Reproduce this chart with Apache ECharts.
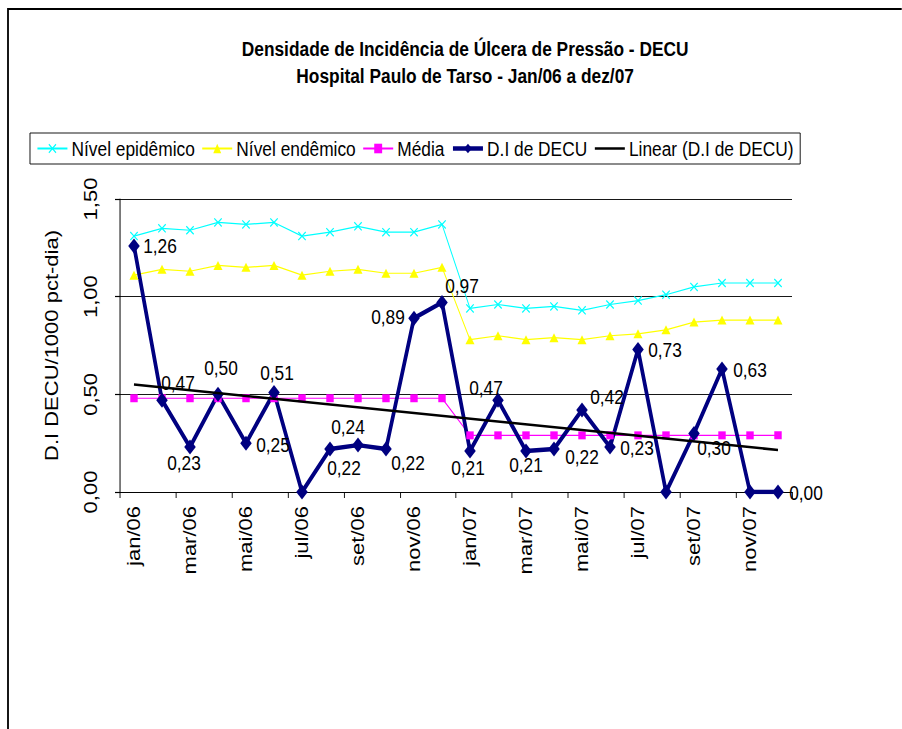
<!DOCTYPE html>
<html>
<head>
<meta charset="utf-8">
<script src="https://cdn.jsdelivr.net/npm/echarts@6/dist/echarts.min.js"></script>
<style>
  html, body { margin: 0; padding: 0; background: #fff; overflow: hidden; }
  #wrap { width: 902px; height: 729px; overflow: hidden; }
  /* the drawing is laid out wider and squeezed horizontally */
  #chart { height: 729px; transform-origin: 0 0; }
</style>
</head>
<body>
<div id="wrap"><div id="chart"></div></div>
<script>
// Monthly categories, Jan/2006 – Dec/2007
const months = ['jan/06','fev/06','mar/06','abr/06','mai/06','jun/06','jul/06','ago/06','set/06','out/06','nov/06','dez/06',
                'jan/07','fev/07','mar/07','abr/07','mai/07','jun/07','jul/07','ago/07','set/07','out/07','nov/07','dez/07'];

// Incidence density of pressure ulcers (per 1000 patient-days)
const diDecu = [1.26, 0.47, 0.23, 0.50, 0.25, 0.51, 0.00, 0.22, 0.24, 0.22, 0.89, 0.97,
                0.21, 0.47, 0.21, 0.22, 0.42, 0.23, 0.73, 0.00, 0.30, 0.63, 0.00, 0.00];

// Epidemic level
const nivelEpidemico = [1.31, 1.35, 1.34, 1.38, 1.37, 1.38, 1.31, 1.33, 1.36, 1.33, 1.33, 1.37,
                        0.94, 0.96, 0.94, 0.95, 0.93, 0.96, 0.98, 1.01, 1.05, 1.07, 1.07, 1.07];

// Endemic level
const nivelEndemico = [1.11, 1.14, 1.13, 1.16, 1.15, 1.16, 1.11, 1.13, 1.14, 1.12, 1.12, 1.15,
                       0.78, 0.80, 0.78, 0.79, 0.78, 0.80, 0.81, 0.83, 0.87, 0.88, 0.88, 0.88];

// Yearly mean
const media = [0.48, 0.48, 0.48, 0.48, 0.48, 0.48, 0.48, 0.48, 0.48, 0.48, 0.48, 0.48,
               0.29, 0.29, 0.29, 0.29, 0.29, 0.29, 0.29, 0.29, 0.29, 0.29, 0.29, 0.29];

// Linear trend of D.I de DECU: value at first and last month
const trendEnds = [0.55, 0.215];

// Y axis ticks
const yTicks = [0, 0.5, 1.0, 1.5];

// Data label placement (label centre relative to the marker, on screen), null = no label
const labelOffsets = [[26,0],[16,-17],[-6,16],[3,-26],[27,2],[3,-19],null,[14,19],[-10,-18],[22,14],[-26,-1],[20,-17],
                      [-2,17],[-12,-12],[0,14],[28,8],[25,-13],[27,1],[27,1],null,[20,15],[28,1],null,[28,1]];

// Horizontal squeeze of the whole drawing
const SX = 0.825;
const W = 902 / SX;
const hx = px => px / SX;   // screen x distance -> layout x distance

const el = document.getElementById('chart');
el.style.width = W + 'px';
el.style.transform = 'scaleX(' + SX + ')';

const SANS = "Liberation Sans, Arial, sans-serif";
const fmt = v => Number(v).toFixed(2).replace('.', ',');

// X-shaped marker for the epidemic level
const xMark = 'path://M0,1L1,0L5,4L9,0L10,1L6,5L10,9L9,10L5,6L1,10L0,9L4,5Z';

const diData = diDecu.map((v, i) => {
  const off = labelOffsets[i];
  return {
    value: v,
    label: off ? { show: true, position: 'inside', offset: [hx(off[0]), off[1]] } : { show: false }
  };
});

const chart = echarts.init(el, null, { renderer: 'svg', width: W, height: 729 });

chart.setOption({
  animation: false,
  backgroundColor: '#fff',
  title: {
    text: 'Densidade de Incidência de Úlcera de Pressão - DECU\nHospital Paulo de Tarso - Jan/06 a dez/07',
    left: hx(461),
    top: 30,
    textAlign: 'center',
    textStyle: { fontFamily: SANS, fontSize: 21, fontWeight: 'bold', color: '#000', lineHeight: 27 }
  },
  legend: {
    left: hx(30),
    top: 133,
    padding: [5, 8],
    itemGap: 8,
    itemWidth: hx(30),
    itemHeight: 12,
    borderColor: '#000',
    borderWidth: 1,
    selectedMode: false,
    textStyle: { fontFamily: SANS, fontSize: 21, color: '#000' },
    data: [
      'Nível epidêmico',
      'Nível endêmico',
      'Média',
      { name: 'D.I de DECU', lineStyle: { width: 4.5 } },
      { name: 'Linear (D.I de DECU)', lineStyle: { width: 2.5 }, itemStyle: { opacity: 0 } }
    ]
  },
  grid: { left: hx(120), right: W - hx(792), top: 199, bottom: 237, containLabel: false },
  xAxis: {
    type: 'category',
    data: months,
    boundaryGap: true,
    axisLine: { lineStyle: { color: '#000', width: 1 } },
    axisTick: { show: true, interval: 1, length: 6, lineStyle: { color: '#000' } },
    axisLabel: { interval: 1, rotate: 90, margin: 14, fontFamily: SANS, fontSize: 22, color: '#000' },
    splitLine: { show: false }
  },
  yAxis: {
    type: 'value',
    min: yTicks[0],
    max: yTicks[yTicks.length - 1],
    interval: yTicks[1] - yTicks[0],
    name: 'D.I DECU/1000 pct-dia)',
    nameLocation: 'middle',
    nameGap: 72,
    nameRotate: 90,
    nameTextStyle: { fontFamily: SANS, fontSize: 22, color: '#000' },
    axisLine: { show: true, lineStyle: { color: '#000', width: 1.2 } },
    axisTick: { show: true, length: hx(5), lineStyle: { color: '#000', width: 1.2 } },
    axisLabel: { rotate: 90, margin: hx(20), fontFamily: SANS, fontSize: 22, color: '#000', formatter: fmt },
    splitLine: { show: true, lineStyle: { color: '#000', width: 1 } }
  },
  series: [
    {
      name: 'Nível epidêmico',
      type: 'line',
      data: nivelEpidemico,
      symbol: xMark,
      symbolSize: [10, 9],
      lineStyle: { color: '#00FFFF', width: 1.2 },
      itemStyle: { color: '#00FFFF' }
    },
    {
      name: 'Nível endêmico',
      type: 'line',
      data: nivelEndemico,
      symbol: 'triangle',
      symbolSize: [11, 9],
      lineStyle: { color: '#FFFF00', width: 1.2 },
      itemStyle: { color: '#FFFF00' }
    },
    {
      name: 'Média',
      type: 'line',
      data: media,
      symbol: 'rect',
      symbolSize: [9, 8],
      lineStyle: { color: '#FF00FF', width: 1.2 },
      itemStyle: { color: '#FF00FF' }
    },
    {
      name: 'D.I de DECU',
      type: 'line',
      data: diData,
      symbol: 'diamond',
      symbolSize: [14, 15],
      lineStyle: { color: '#000080', width: 4.5 },
      itemStyle: { color: '#000080' },
      label: { fontFamily: SANS, fontSize: 21, color: '#000', formatter: p => fmt(p.value) },
      z: 3
    },
    {
      name: 'Linear (D.I de DECU)',
      type: 'line',
      data: [[months[0], trendEnds[0]], [months[months.length - 1], trendEnds[1]]],
      symbol: 'none',
      lineStyle: { color: '#000', width: 2.5 },
      itemStyle: { color: '#000' },
      z: 4
    }
  ],
  graphic: [
    {
      type: 'rect',
      shape: { x: hx(8), y: 9, width: W, height: 800 },
      style: { fill: 'none', stroke: '#000', lineWidth: 2.2 },
      silent: true,
      z: 100
    }
  ]
});
</script>
</body>
</html>
